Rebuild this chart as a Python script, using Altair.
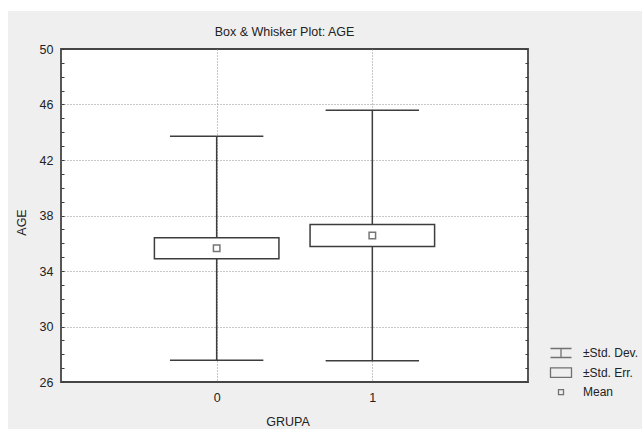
import altair as alt
import pandas as pd

# ---------------- data ----------------
groups = [0, 1]
means = [35.64, 36.56]
std_devs = [8.08, 9.03]
std_errs = [0.75, 0.79]
legend_labels = ["±Std. Dev.", "±Std. Err.", "Mean"]

y_minor = list(range(26, 51))
x_ticks = [0, 1]
y_domain = [26, 50]
x_domain = [-1, 2]

# ---------------- style ----------------
DARK = "#3d3d3d"
GRID = "#8f8f8f"
TXT = "#222222"
FONT = "Liberation Sans"
BOX_HALF = 0.4
CAP_HALF = 0.3

IBAR = "M-1.05,-0.45H1.05M0,-0.45V0.45M-1.05,0.45H1.05"
RECT = "M-1.05,-0.47H1.05V0.47H-1.05Z"
SQR = "M-0.25,-0.25H0.25V0.25H-0.25Z"

df = pd.DataFrame({"GRUPA": groups, "mean": means, "sd": std_devs, "se": std_errs})
leg_df = pd.DataFrame({"item": legend_labels})

xs = alt.Scale(domain=x_domain, nice=False, zero=False)
ys = alt.Scale(domain=y_domain, nice=False, zero=False)

x_axis = alt.Axis(
    values=x_ticks, format="d", grid=True, gridColor=GRID, gridDash=[1, 2],
    domain=False, ticks=False, labelFontSize=12.5, labelColor=TXT, labelPadding=9,
    title="GRUPA", titleFontSize=12.5, titleFontWeight="normal", titleColor=TXT,
    titleX=226.5, titleY=43, titleAlign="center", titleBaseline="alphabetic",
)

y_left = alt.Axis(
    values=y_minor, labelExpr="datum.value % 4 == 2 ? datum.label : ''",
    grid=True, gridColor=GRID, gridDash=[1, 2],
    gridOpacity={"condition": {"test": "datum.value % 4 == 2 && datum.value > 26 && datum.value < 50", "value": 1}, "value": 0},
    domain=False, ticks=True, tickSize={"expr": "-3"}, tickColor=DARK, tickWidth=1,
    labelFontSize=12.5, labelColor=TXT, labelPadding=11,
    title="AGE", titleFontSize=12.5, titleFontWeight="normal", titleColor=TXT,
    titleX=-40, titleY=173, titleAlign="center", titleBaseline="middle",
)

y_right = alt.Axis(
    orient="right", values=y_minor, labels=False, grid=False, domain=False,
    ticks=True, tickSize={"expr": "-3"}, tickColor=DARK, tickWidth=1, title=None,
)


def X(field):
    return alt.X(f"{field}:Q", scale=xs, axis=x_axis)


base = alt.Chart(df).transform_calculate(
    sd_lo="datum.mean - datum.sd",
    sd_hi="datum.mean + datum.sd",
    se_lo="datum.mean - datum.se",
    se_hi="datum.mean + datum.se",
    box_l=f"datum.GRUPA - {BOX_HALF}",
    box_r=f"datum.GRUPA + {BOX_HALF}",
    cap_l=f"datum.GRUPA - {CAP_HALF}",
    cap_r=f"datum.GRUPA + {CAP_HALF}",
)

whisker = base.mark_rule(color=DARK, strokeWidth=1.5).encode(
    x=X("GRUPA"),
    y=alt.Y("sd_lo:Q", scale=ys, axis=y_left),
    y2="sd_hi:Q",
)

caps = base.transform_fold(["sd_lo", "sd_hi"], as_=["k", "v"]).mark_rule(
    color=DARK, strokeWidth=1.5
).encode(
    x=X("cap_l"),
    x2="cap_r:Q",
    y=alt.Y("v:Q", scale=ys, axis=None),
)

boxes = base.mark_rect(fill="white", stroke=DARK, strokeWidth=1.5).encode(
    x=X("box_l"),
    x2="box_r:Q",
    y=alt.Y("se_lo:Q", scale=ys, axis=y_right),
    y2="se_hi:Q",
)

mean_pts = base.mark_point(shape="square", size=42, filled=False, color=DARK, strokeWidth=1.5).encode(
    x=X("GRUPA"),
    y=alt.Y("mean:Q", scale=ys, axis=None),
)

legend_def = alt.Legend(
    title=None, orient="none", legendX=489, legendY=293, padding=0,
    symbolSize=400, symbolStrokeWidth=1.3, symbolStrokeColor=DARK, symbolFillColor="white",
    labelFont=FONT, labelFontSize=12, labelColor=TXT, labelOffset=11, rowPadding=0.6,
)

legend_layer = alt.Chart(leg_df).mark_point(filled=False, clip=True, color=DARK, strokeWidth=1.3).encode(
    x=alt.X(datum=-5, type="quantitative", scale=xs, axis=x_axis),
    y=alt.Y(datum=30, type="quantitative", scale=ys, axis=None),
    shape=alt.Shape("item:N", scale=alt.Scale(domain=legend_labels, range=[IBAR, RECT, SQR]), legend=legend_def),
)

one = pd.DataFrame({"a": [0]})
strip_top = alt.Chart(one).mark_rect(color="white").encode(
    x=alt.value(-61), x2=alt.value(581), y=alt.value(-49), y2=alt.value(-38)
)
strip_left = alt.Chart(one).mark_rect(color="white").encode(
    x=alt.value(-61), x2=alt.value(-53), y=alt.value(-49), y2=alt.value(380)
)

chart = alt.layer(
    strip_top, strip_left, whisker, caps, boxes, mean_pts, legend_layer
).resolve_axis(x="shared", y="independent").properties(
    width=467,
    height=333,
    padding={"left": 61, "top": 49, "right": 114, "bottom": 47},
    autosize=alt.AutoSizeParams(type="none"),
    background="#efefef",
    title=alt.TitleParams(
        text="Box & Whisker Plot: AGE", font=FONT, fontSize=12.5, fontWeight="normal",
        color=TXT, anchor="middle", frame="group", dx=-10, offset=0, dy=38,
    ),
).configure(font=FONT).configure_view(
    fill="white", stroke="#454545", strokeWidth=1.8
)

chart.save("out.html", embed_options={"renderer": "svg", "actions": False})
